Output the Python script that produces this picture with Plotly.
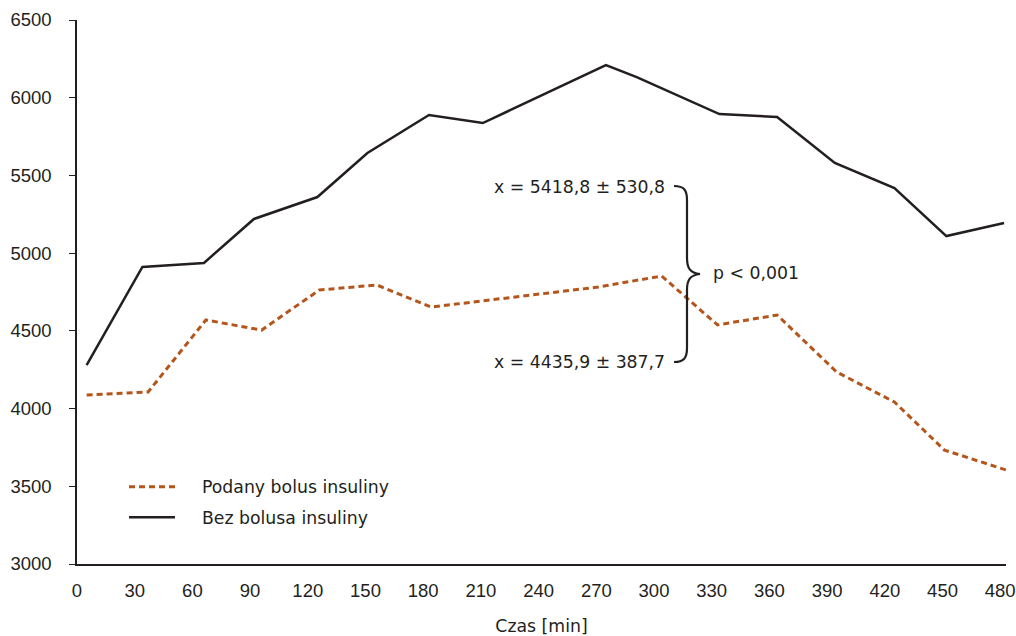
import plotly.graph_objects as go

# ---- data ----
x_ticks = [0, 30, 60, 90, 120, 150, 180, 210, 240, 270, 300, 330, 360, 390, 420, 450, 480]
y_ticks = [3000, 3500, 4000, 4500, 5000, 5500, 6000, 6500]

bolus_name = "Podany bolus insuliny"
bolus_time = [5, 37, 67, 96, 126, 156, 184, 271, 304, 333, 364, 395, 425, 451, 483]
bolus_val = [4087, 4107, 4570, 4505, 4763, 4795, 4653, 4782, 4853, 4538, 4602, 4235, 4042, 3733, 3605]

nobolus_name = "Bez bolusa insuliny"
nobolus_time = [5, 34, 66, 92, 125, 151, 183, 211, 275, 291, 334, 364, 394, 425, 452, 482]
nobolus_val = [4280, 4911, 4937, 5220, 5361, 5644, 5889, 5837, 6210, 6133, 5895, 5876, 5580, 5419, 5110, 5194]

mean_top = "x = 5418,8 ± 530,8"
mean_bottom = "x = 4435,9 ± 387,7"
p_text = "p < 0,001"
x_title = "Czas [min]"

# ---- layout constants ----
W, H = 1016, 636
ML, MR, MT, MB = 77, 10, 20, 72
PW, PH = W - ML - MR, H - MT - MB

def px(xp):
    """window pixel x -> paper fraction"""
    return (xp - ML) / PW

def py(yp):
    """window pixel y -> paper fraction"""
    return (H - MB - yp) / PH

TEXT = "#231f20"
BROWN = "#b4561b"
AX_FONT = dict(family="Liberation Sans, Arial, sans-serif", size=18.5, color=TEXT)
TXT_FONT = dict(family="DejaVu Sans, sans-serif", size=17.3, color=TEXT)
PAD = "\u00a0\u00a0\u00a0\u00a0"

fig = go.Figure()
fig.add_trace(go.Scatter(
    x=bolus_time, y=bolus_val, mode="lines", name=PAD + bolus_name,
    line=dict(color=BROWN, width=3, dash="6px,4px"), legendgroup="a",
))
fig.add_trace(go.Scatter(
    x=nobolus_time, y=nobolus_val, mode="lines", name=PAD + nobolus_name,
    line=dict(color=TEXT, width=2.5), legendgroup="b",
))

# curly brace (annotation shape, pixel geometry converted to paper coords)
pts = [
    ("M", [(674, 186)]),
    ("C", [(684, 186), (687, 190), (687, 200)]),
    ("L", [(687, 258)]),
    ("C", [(687, 268), (690, 273), (700, 274)]),
    ("C", [(690, 275), (687, 280), (687, 290)]),
    ("L", [(687, 348)]),
    ("C", [(687, 358), (684, 362), (674, 362)]),
]
path = ""
for cmd, ps in pts:
    path += cmd + " " + " ".join(f"{px(a):.5f},{py(b):.5f}" for a, b in ps) + " "
fig.add_shape(type="path", path=path.strip(), xref="paper", yref="paper",
              line=dict(color=TEXT, width=2.2))

fig.add_annotation(text=mean_top, xref="paper", yref="paper", x=px(667), y=py(187),
                   xanchor="right", yanchor="middle", showarrow=False, font=TXT_FONT)
fig.add_annotation(text=mean_bottom, xref="paper", yref="paper", x=px(667), y=py(362),
                   xanchor="right", yanchor="middle", showarrow=False, font=TXT_FONT)
fig.add_annotation(text=p_text, xref="paper", yref="paper", x=px(711), y=py(273),
                   xanchor="left", yanchor="middle", showarrow=False, font=TXT_FONT)

fig.update_layout(
    width=W, height=H,
    margin=dict(l=ML, r=MR, t=MT, b=MB),
    paper_bgcolor="white", plot_bgcolor="white",
    showlegend=True,
    legend=dict(x=px(124), y=py(469), xanchor="left", yanchor="top",
                font=TXT_FONT, bgcolor="rgba(0,0,0,0)", tracegroupgap=5,
                traceorder="grouped", itemwidth=46),
    xaxis=dict(range=[0, 483], tickvals=x_ticks, ticktext=[str(v) for v in x_ticks],
               showline=True, linecolor=TEXT, linewidth=1.5, ticks="",
               showgrid=False, zeroline=False, tickfont=AX_FONT,
               ticklabelstandoff=9, automargin=False,
               title=dict(text=x_title, font=TXT_FONT, standoff=22)),
    yaxis=dict(range=[3000, 6500], tickvals=y_ticks, ticktext=[str(v) for v in y_ticks],
               showline=True, linecolor=TEXT, linewidth=1.5, ticks="outside",
               ticklen=6, tickcolor=TEXT, tickwidth=1.2,
               showgrid=False, zeroline=False, tickfont=AX_FONT,
               ticklabelstandoff=14, automargin=False),
)

fig.write_html(
    "out.html",
    config={"displayModeBar": False},
    post_script="document.body.style.margin='0';document.body.style.overflow='hidden';",
)
